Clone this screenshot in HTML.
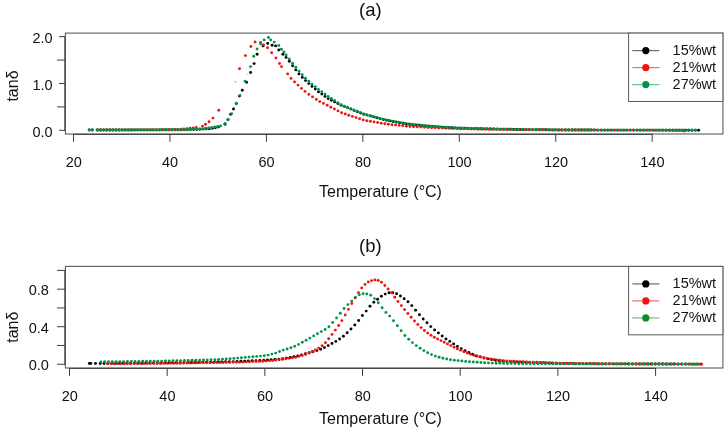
<!DOCTYPE html>
<html><head><meta charset="utf-8"><title>tan delta vs Temperature</title>
<style>html,body{margin:0;padding:0;background:#fff}svg{display:block}</style></head>
<body>
<svg width="728" height="433" viewBox="0 0 728 433" font-family="'Liberation Sans', sans-serif" fill="#111111">
<rect width="728" height="433" fill="#fff"/>
<rect x="65.4" y="33.1" width="657.5" height="100.9" fill="none" stroke="#5c5c5c" stroke-width="1.1"/>
<path d="M73.00 134.40H652.70 M64.85 36.15V130.79" fill="none" stroke="#3c3c3c" stroke-width="1"/>
<line x1="59.1" x2="65.1" y1="36.65" y2="36.65" stroke="#3c3c3c" stroke-width="1"/><text x="52.6" y="42.9" font-size="14.5" text-anchor="end">2.0</text>
<line x1="57.1" x2="65.1" y1="60.06" y2="60.06" stroke="#3c3c3c" stroke-width="1"/><line x1="59.1" x2="65.1" y1="83.47" y2="83.47" stroke="#3c3c3c" stroke-width="1"/><text x="52.6" y="89.8" font-size="14.5" text-anchor="end">1.0</text>
<line x1="57.1" x2="65.1" y1="106.88" y2="106.88" stroke="#3c3c3c" stroke-width="1"/><line x1="59.1" x2="65.1" y1="130.29" y2="130.29" stroke="#3c3c3c" stroke-width="1"/><text x="52.6" y="136.6" font-size="14.5" text-anchor="end">0.0</text>
<line x1="73.50" x2="73.50" y1="134.4" y2="141.9" stroke="#3c3c3c" stroke-width="1"/><text x="73.7" y="166.8" font-size="14.5" text-anchor="middle">20</text>
<line x1="169.95" x2="169.95" y1="134.4" y2="141.9" stroke="#3c3c3c" stroke-width="1"/><text x="170.1" y="166.8" font-size="14.5" text-anchor="middle">40</text>
<line x1="266.40" x2="266.40" y1="134.4" y2="141.9" stroke="#3c3c3c" stroke-width="1"/><text x="266.6" y="166.8" font-size="14.5" text-anchor="middle">60</text>
<line x1="362.85" x2="362.85" y1="134.4" y2="141.9" stroke="#3c3c3c" stroke-width="1"/><text x="363.0" y="166.8" font-size="14.5" text-anchor="middle">80</text>
<line x1="459.30" x2="459.30" y1="134.4" y2="141.9" stroke="#3c3c3c" stroke-width="1"/><text x="459.5" y="166.8" font-size="14.5" text-anchor="middle">100</text>
<line x1="555.75" x2="555.75" y1="134.4" y2="141.9" stroke="#3c3c3c" stroke-width="1"/><text x="556.0" y="166.8" font-size="14.5" text-anchor="middle">120</text>
<line x1="652.20" x2="652.20" y1="134.4" y2="141.9" stroke="#3c3c3c" stroke-width="1"/><text x="652.4" y="166.8" font-size="14.5" text-anchor="middle">140</text>
<text x="370.4" y="16.0" font-size="18.5" text-anchor="middle">(a)</text>
<text x="380.5" y="196.8" font-size="16" text-anchor="middle">Temperature (°C)</text>
<text transform="translate(18.2,86.0) rotate(-90)" font-size="16" text-anchor="middle">tanδ</text>
<g fill="#000000"><circle cx="89.2" cy="130.0" r="1.45"/><circle cx="92.3" cy="130.0" r="1.45"/><circle cx="97.6" cy="130.0" r="1.45"/><circle cx="100.7" cy="130.0" r="1.45"/><circle cx="103.8" cy="130.0" r="1.45"/><circle cx="106.9" cy="130.0" r="1.45"/><circle cx="110.0" cy="130.0" r="1.45"/><circle cx="113.1" cy="130.0" r="1.45"/><circle cx="116.2" cy="130.0" r="1.45"/><circle cx="119.3" cy="130.0" r="1.45"/><circle cx="122.4" cy="130.0" r="1.45"/><circle cx="125.5" cy="130.0" r="1.45"/><circle cx="128.6" cy="130.0" r="1.45"/><circle cx="131.7" cy="130.0" r="1.45"/><circle cx="134.8" cy="129.9" r="1.45"/><circle cx="137.9" cy="129.9" r="1.45"/><circle cx="141.0" cy="129.9" r="1.45"/><circle cx="144.1" cy="129.9" r="1.45"/><circle cx="147.2" cy="129.9" r="1.45"/><circle cx="150.3" cy="129.9" r="1.45"/><circle cx="153.4" cy="129.9" r="1.45"/><circle cx="156.5" cy="129.9" r="1.45"/><circle cx="159.6" cy="129.9" r="1.45"/><circle cx="162.7" cy="129.9" r="1.45"/><circle cx="165.8" cy="129.9" r="1.45"/><circle cx="168.9" cy="129.9" r="1.45"/><circle cx="172.0" cy="129.9" r="1.45"/><circle cx="175.1" cy="129.9" r="1.45"/><circle cx="178.2" cy="129.9" r="1.45"/><circle cx="181.3" cy="129.9" r="1.45"/><circle cx="184.4" cy="129.8" r="1.45"/><circle cx="187.5" cy="129.7" r="1.45"/><circle cx="190.6" cy="129.6" r="1.45"/><circle cx="193.7" cy="129.5" r="1.45"/><circle cx="196.8" cy="129.4" r="1.45"/><circle cx="199.9" cy="129.3" r="1.45"/><circle cx="203.0" cy="129.1" r="1.45"/><circle cx="206.1" cy="128.9" r="1.45"/><circle cx="209.2" cy="128.7" r="1.45"/><circle cx="212.3" cy="128.2" r="1.45"/><circle cx="215.4" cy="127.8" r="1.45"/><circle cx="218.5" cy="127.1" r="1.45"/><circle cx="225.0" cy="124.3" r="1.45"/><circle cx="228.0" cy="119.8" r="1.45"/><circle cx="230.7" cy="114.3" r="1.45"/><circle cx="233.5" cy="109.0" r="1.45"/><circle cx="236.2" cy="103.6" r="1.45"/><circle cx="239.4" cy="96.1" r="1.45"/><circle cx="242.3" cy="90.2" r="1.45"/><circle cx="246.5" cy="82.2" r="1.45"/><circle cx="250.6" cy="72.5" r="1.45"/><circle cx="254.1" cy="63.6" r="1.45"/><circle cx="257.1" cy="54.2" r="1.45"/><circle cx="263.1" cy="45.9" r="1.45"/><circle cx="267.7" cy="43.4" r="1.45"/><circle cx="272.1" cy="45.2" r="1.45"/><circle cx="275.6" cy="45.9" r="1.45"/><circle cx="278.8" cy="50.0" r="1.45"/><circle cx="282.9" cy="54.2" r="1.45"/><circle cx="286.1" cy="57.4" r="1.45"/><circle cx="289.3" cy="61.2" r="1.45"/><circle cx="292.6" cy="65.7" r="1.45"/><circle cx="295.8" cy="69.9" r="1.45"/><circle cx="299.0" cy="73.9" r="1.45"/><circle cx="302.3" cy="77.4" r="1.45"/><circle cx="305.5" cy="80.6" r="1.45"/><circle cx="308.8" cy="83.6" r="1.45"/><circle cx="312.0" cy="86.4" r="1.45"/><circle cx="315.3" cy="89.1" r="1.45"/><circle cx="318.5" cy="91.9" r="1.45"/><circle cx="321.8" cy="94.1" r="1.45"/><circle cx="325.0" cy="96.4" r="1.45"/><circle cx="328.2" cy="98.6" r="1.45"/><circle cx="331.4" cy="100.2" r="1.45"/><circle cx="334.6" cy="101.9" r="1.45"/><circle cx="337.9" cy="103.5" r="1.45"/><circle cx="341.1" cy="105.2" r="1.45"/><circle cx="344.4" cy="106.5" r="1.45"/><circle cx="347.6" cy="107.8" r="1.45"/><circle cx="350.9" cy="109.1" r="1.45"/><circle cx="354.1" cy="110.4" r="1.45"/><circle cx="357.4" cy="111.7" r="1.45"/><circle cx="360.6" cy="113.0" r="1.45"/><circle cx="363.9" cy="114.3" r="1.45"/><circle cx="367.1" cy="115.1" r="1.45"/><circle cx="370.4" cy="116.0" r="1.45"/><circle cx="373.6" cy="116.9" r="1.45"/><circle cx="376.9" cy="117.8" r="1.45"/><circle cx="380.1" cy="118.6" r="1.45"/><circle cx="383.4" cy="119.5" r="1.45"/><circle cx="386.6" cy="120.3" r="1.45"/><circle cx="389.9" cy="120.9" r="1.45"/><circle cx="393.1" cy="121.5" r="1.45"/><circle cx="396.4" cy="122.1" r="1.45"/><circle cx="399.6" cy="122.7" r="1.45"/><circle cx="402.9" cy="123.3" r="1.45"/><circle cx="406.1" cy="123.9" r="1.45"/><circle cx="409.4" cy="124.3" r="1.45"/><circle cx="412.6" cy="124.7" r="1.45"/><circle cx="415.9" cy="125.0" r="1.45"/><circle cx="419.1" cy="125.3" r="1.45"/><circle cx="422.4" cy="125.6" r="1.45"/><circle cx="425.6" cy="126.0" r="1.45"/><circle cx="428.9" cy="126.3" r="1.45"/><circle cx="432.1" cy="126.5" r="1.45"/><circle cx="435.4" cy="126.7" r="1.45"/><circle cx="438.6" cy="127.0" r="1.45"/><circle cx="441.9" cy="127.2" r="1.45"/><circle cx="445.1" cy="127.4" r="1.45"/><circle cx="448.4" cy="127.6" r="1.45"/><circle cx="451.6" cy="127.8" r="1.45"/><circle cx="454.9" cy="127.9" r="1.45"/><circle cx="458.1" cy="128.1" r="1.45"/><circle cx="461.4" cy="128.2" r="1.45"/><circle cx="464.6" cy="128.3" r="1.45"/><circle cx="467.9" cy="128.5" r="1.45"/><circle cx="471.1" cy="128.6" r="1.45"/><circle cx="474.4" cy="128.7" r="1.45"/><circle cx="477.6" cy="128.8" r="1.45"/><circle cx="480.9" cy="128.8" r="1.45"/><circle cx="484.1" cy="128.9" r="1.45"/><circle cx="487.4" cy="128.9" r="1.45"/><circle cx="490.6" cy="129.0" r="1.45"/><circle cx="493.9" cy="129.0" r="1.45"/><circle cx="497.1" cy="129.1" r="1.45"/><circle cx="500.4" cy="129.2" r="1.45"/><circle cx="503.6" cy="129.2" r="1.45"/><circle cx="506.9" cy="129.3" r="1.45"/><circle cx="510.1" cy="129.3" r="1.45"/><circle cx="513.4" cy="129.4" r="1.45"/><circle cx="516.6" cy="129.4" r="1.45"/><circle cx="519.9" cy="129.5" r="1.45"/><circle cx="523.1" cy="129.5" r="1.45"/><circle cx="526.4" cy="129.6" r="1.45"/><circle cx="529.6" cy="129.6" r="1.45"/><circle cx="532.9" cy="129.7" r="1.45"/><circle cx="536.1" cy="129.7" r="1.45"/><circle cx="539.4" cy="129.7" r="1.45"/><circle cx="542.6" cy="129.8" r="1.45"/><circle cx="545.9" cy="129.8" r="1.45"/><circle cx="549.1" cy="129.9" r="1.45"/><circle cx="552.4" cy="129.9" r="1.45"/><circle cx="555.6" cy="129.9" r="1.45"/><circle cx="558.9" cy="130.0" r="1.45"/><circle cx="562.1" cy="130.0" r="1.45"/><circle cx="565.4" cy="130.0" r="1.45"/><circle cx="568.6" cy="130.0" r="1.45"/><circle cx="571.9" cy="130.0" r="1.45"/><circle cx="575.1" cy="130.0" r="1.45"/><circle cx="578.4" cy="130.0" r="1.45"/><circle cx="581.6" cy="130.0" r="1.45"/><circle cx="584.9" cy="130.0" r="1.45"/><circle cx="588.1" cy="130.0" r="1.45"/><circle cx="591.4" cy="130.0" r="1.45"/><circle cx="594.6" cy="130.0" r="1.45"/><circle cx="597.9" cy="130.1" r="1.45"/><circle cx="601.1" cy="130.1" r="1.45"/><circle cx="604.4" cy="130.1" r="1.45"/><circle cx="607.6" cy="130.1" r="1.45"/><circle cx="610.9" cy="130.1" r="1.45"/><circle cx="614.1" cy="130.1" r="1.45"/><circle cx="617.4" cy="130.1" r="1.45"/><circle cx="620.6" cy="130.1" r="1.45"/><circle cx="623.9" cy="130.1" r="1.45"/><circle cx="627.1" cy="130.1" r="1.45"/><circle cx="630.4" cy="130.1" r="1.45"/><circle cx="633.6" cy="130.1" r="1.45"/><circle cx="636.9" cy="130.1" r="1.45"/><circle cx="640.1" cy="130.1" r="1.45"/><circle cx="643.4" cy="130.1" r="1.45"/><circle cx="646.6" cy="130.1" r="1.45"/><circle cx="649.9" cy="130.1" r="1.45"/><circle cx="653.1" cy="130.1" r="1.45"/><circle cx="656.4" cy="130.1" r="1.45"/><circle cx="659.6" cy="130.1" r="1.45"/><circle cx="662.9" cy="130.1" r="1.45"/><circle cx="666.1" cy="130.2" r="1.45"/><circle cx="669.4" cy="130.2" r="1.45"/><circle cx="672.6" cy="130.2" r="1.45"/><circle cx="675.9" cy="130.2" r="1.45"/><circle cx="679.1" cy="130.2" r="1.45"/><circle cx="682.4" cy="130.2" r="1.45"/><circle cx="685.6" cy="130.2" r="1.45"/><circle cx="688.9" cy="130.2" r="1.45"/><circle cx="692.1" cy="130.2" r="1.45"/><circle cx="695.4" cy="130.2" r="1.45"/><circle cx="698.6" cy="130.2" r="1.45"/></g>
<g fill="#f0140f"><circle cx="97.0" cy="130.0" r="1.45"/><circle cx="100.1" cy="130.0" r="1.45"/><circle cx="103.2" cy="130.0" r="1.45"/><circle cx="106.3" cy="130.0" r="1.45"/><circle cx="109.4" cy="130.0" r="1.45"/><circle cx="112.5" cy="130.0" r="1.45"/><circle cx="115.6" cy="130.0" r="1.45"/><circle cx="118.7" cy="130.0" r="1.45"/><circle cx="121.8" cy="130.0" r="1.45"/><circle cx="124.9" cy="130.0" r="1.45"/><circle cx="128.0" cy="130.0" r="1.45"/><circle cx="131.1" cy="129.9" r="1.45"/><circle cx="134.2" cy="129.9" r="1.45"/><circle cx="137.3" cy="129.9" r="1.45"/><circle cx="140.4" cy="129.9" r="1.45"/><circle cx="143.5" cy="129.9" r="1.45"/><circle cx="146.6" cy="129.9" r="1.45"/><circle cx="149.7" cy="129.9" r="1.45"/><circle cx="152.8" cy="129.9" r="1.45"/><circle cx="155.9" cy="129.9" r="1.45"/><circle cx="159.0" cy="129.9" r="1.45"/><circle cx="162.1" cy="129.8" r="1.45"/><circle cx="165.2" cy="129.8" r="1.45"/><circle cx="168.3" cy="129.7" r="1.45"/><circle cx="171.4" cy="129.6" r="1.45"/><circle cx="174.5" cy="129.5" r="1.45"/><circle cx="177.6" cy="129.5" r="1.45"/><circle cx="180.7" cy="129.3" r="1.45"/><circle cx="183.8" cy="129.0" r="1.45"/><circle cx="186.9" cy="128.6" r="1.45"/><circle cx="190.0" cy="128.3" r="1.45"/><circle cx="193.1" cy="127.9" r="1.45"/><circle cx="196.2" cy="127.4" r="1.45"/><circle cx="202.5" cy="126.1" r="1.45"/><circle cx="205.5" cy="124.3" r="1.45"/><circle cx="209.0" cy="121.8" r="1.45"/><circle cx="213.0" cy="118.1" r="1.45"/><circle cx="218.7" cy="110.3" r="1.45"/><circle cx="239.5" cy="68.7" r="1.45"/><circle cx="245.4" cy="55.6" r="1.45"/><circle cx="250.9" cy="46.5" r="1.45"/><circle cx="255.1" cy="42.0" r="1.45"/><circle cx="260.6" cy="42.4" r="1.45"/><circle cx="263.5" cy="44.9" r="1.45"/><circle cx="267.5" cy="47.7" r="1.45"/><circle cx="271.7" cy="52.8" r="1.45"/><circle cx="275.9" cy="57.9" r="1.45"/><circle cx="279.5" cy="63.5" r="1.45"/><circle cx="281.5" cy="66.6" r="1.45"/><circle cx="287.6" cy="73.9" r="1.45"/><circle cx="291.0" cy="78.4" r="1.45"/><circle cx="294.6" cy="81.9" r="1.45"/><circle cx="298.0" cy="85.1" r="1.45"/><circle cx="301.5" cy="88.4" r="1.45"/><circle cx="305.0" cy="91.4" r="1.45"/><circle cx="308.8" cy="94.4" r="1.45"/><circle cx="312.5" cy="96.9" r="1.45"/><circle cx="316.3" cy="99.4" r="1.45"/><circle cx="319.8" cy="101.6" r="1.45"/><circle cx="323.5" cy="103.4" r="1.45"/><circle cx="327.2" cy="105.3" r="1.45"/><circle cx="330.8" cy="107.2" r="1.45"/><circle cx="334.4" cy="109.0" r="1.45"/><circle cx="338.0" cy="110.9" r="1.45"/><circle cx="341.6" cy="112.8" r="1.45"/><circle cx="345.2" cy="114.0" r="1.45"/><circle cx="348.8" cy="115.2" r="1.45"/><circle cx="352.4" cy="116.4" r="1.45"/><circle cx="356.0" cy="117.6" r="1.45"/><circle cx="359.6" cy="118.8" r="1.45"/><circle cx="363.2" cy="119.9" r="1.45"/><circle cx="366.8" cy="120.7" r="1.45"/><circle cx="370.4" cy="121.3" r="1.45"/><circle cx="374.0" cy="121.9" r="1.45"/><circle cx="377.6" cy="122.5" r="1.45"/><circle cx="381.2" cy="123.2" r="1.45"/><circle cx="384.8" cy="123.8" r="1.45"/><circle cx="388.4" cy="124.3" r="1.45"/><circle cx="392.0" cy="124.7" r="1.45"/><circle cx="395.6" cy="125.0" r="1.45"/><circle cx="399.2" cy="125.4" r="1.45"/><circle cx="402.8" cy="125.8" r="1.45"/><circle cx="406.4" cy="126.2" r="1.45"/><circle cx="410.0" cy="126.5" r="1.45"/><circle cx="413.6" cy="126.7" r="1.45"/><circle cx="417.2" cy="126.9" r="1.45"/><circle cx="420.8" cy="127.1" r="1.45"/><circle cx="424.4" cy="127.3" r="1.45"/><circle cx="428.0" cy="127.5" r="1.45"/><circle cx="431.6" cy="127.7" r="1.45"/><circle cx="435.2" cy="127.8" r="1.45"/><circle cx="438.8" cy="128.0" r="1.45"/><circle cx="442.4" cy="128.1" r="1.45"/><circle cx="446.0" cy="128.3" r="1.45"/><circle cx="449.6" cy="128.4" r="1.45"/><circle cx="453.2" cy="128.5" r="1.45"/><circle cx="456.8" cy="128.6" r="1.45"/><circle cx="460.4" cy="128.7" r="1.45"/><circle cx="464.0" cy="128.8" r="1.45"/><circle cx="467.6" cy="128.9" r="1.45"/><circle cx="471.2" cy="129.0" r="1.45"/><circle cx="474.8" cy="129.1" r="1.45"/><circle cx="478.4" cy="129.2" r="1.45"/><circle cx="482.0" cy="129.2" r="1.45"/><circle cx="485.6" cy="129.3" r="1.45"/><circle cx="489.2" cy="129.3" r="1.45"/><circle cx="492.8" cy="129.3" r="1.45"/><circle cx="496.4" cy="129.4" r="1.45"/><circle cx="500.0" cy="129.4" r="1.45"/><circle cx="503.6" cy="129.5" r="1.45"/><circle cx="507.2" cy="129.5" r="1.45"/><circle cx="510.8" cy="129.6" r="1.45"/><circle cx="514.4" cy="129.6" r="1.45"/><circle cx="518.0" cy="129.7" r="1.45"/><circle cx="521.6" cy="129.7" r="1.45"/><circle cx="525.2" cy="129.7" r="1.45"/><circle cx="528.8" cy="129.8" r="1.45"/><circle cx="532.4" cy="129.8" r="1.45"/><circle cx="536.0" cy="129.8" r="1.45"/><circle cx="539.6" cy="129.8" r="1.45"/><circle cx="543.2" cy="129.9" r="1.45"/><circle cx="546.8" cy="129.9" r="1.45"/><circle cx="550.4" cy="129.9" r="1.45"/><circle cx="554.0" cy="130.0" r="1.45"/><circle cx="557.6" cy="130.0" r="1.45"/><circle cx="561.2" cy="130.0" r="1.45"/><circle cx="564.8" cy="130.0" r="1.45"/><circle cx="568.4" cy="130.0" r="1.45"/><circle cx="572.0" cy="130.0" r="1.45"/><circle cx="575.6" cy="130.0" r="1.45"/><circle cx="579.2" cy="130.0" r="1.45"/><circle cx="582.8" cy="130.0" r="1.45"/><circle cx="586.4" cy="130.0" r="1.45"/><circle cx="590.0" cy="130.0" r="1.45"/><circle cx="593.6" cy="130.1" r="1.45"/><circle cx="597.2" cy="130.1" r="1.45"/><circle cx="600.8" cy="130.1" r="1.45"/><circle cx="604.4" cy="130.1" r="1.45"/><circle cx="608.0" cy="130.1" r="1.45"/><circle cx="611.6" cy="130.1" r="1.45"/><circle cx="615.2" cy="130.1" r="1.45"/><circle cx="618.8" cy="130.1" r="1.45"/><circle cx="622.4" cy="130.1" r="1.45"/><circle cx="626.0" cy="130.1" r="1.45"/><circle cx="629.6" cy="130.1" r="1.45"/><circle cx="633.2" cy="130.1" r="1.45"/><circle cx="636.8" cy="130.1" r="1.45"/><circle cx="640.4" cy="130.1" r="1.45"/><circle cx="644.0" cy="130.1" r="1.45"/><circle cx="647.6" cy="130.1" r="1.45"/><circle cx="651.2" cy="130.1" r="1.45"/><circle cx="654.8" cy="130.2" r="1.45"/><circle cx="658.4" cy="130.2" r="1.45"/><circle cx="662.0" cy="130.2" r="1.45"/><circle cx="665.6" cy="130.2" r="1.45"/><circle cx="669.2" cy="130.2" r="1.45"/><circle cx="672.8" cy="130.2" r="1.45"/><circle cx="676.4" cy="130.2" r="1.45"/><circle cx="680.0" cy="130.2" r="1.45"/><circle cx="683.6" cy="130.2" r="1.45"/><circle cx="684.2" cy="131.0" r="1.45"/></g>
<g fill="#00964a"><circle cx="89.2" cy="130.0" r="1.45"/><circle cx="92.3" cy="130.0" r="1.45"/><circle cx="97.6" cy="130.0" r="1.45"/><circle cx="100.6" cy="130.0" r="1.45"/><circle cx="103.6" cy="130.0" r="1.45"/><circle cx="106.6" cy="130.0" r="1.45"/><circle cx="109.6" cy="130.0" r="1.45"/><circle cx="112.6" cy="130.0" r="1.45"/><circle cx="115.6" cy="130.0" r="1.45"/><circle cx="118.6" cy="129.9" r="1.45"/><circle cx="121.6" cy="129.9" r="1.45"/><circle cx="124.6" cy="129.9" r="1.45"/><circle cx="127.6" cy="129.9" r="1.45"/><circle cx="130.6" cy="129.9" r="1.45"/><circle cx="133.6" cy="129.9" r="1.45"/><circle cx="136.6" cy="129.9" r="1.45"/><circle cx="139.6" cy="129.9" r="1.45"/><circle cx="142.6" cy="129.9" r="1.45"/><circle cx="145.6" cy="129.9" r="1.45"/><circle cx="148.6" cy="129.9" r="1.45"/><circle cx="151.6" cy="129.9" r="1.45"/><circle cx="154.6" cy="129.9" r="1.45"/><circle cx="157.6" cy="129.9" r="1.45"/><circle cx="160.6" cy="129.8" r="1.45"/><circle cx="163.6" cy="129.8" r="1.45"/><circle cx="166.6" cy="129.8" r="1.45"/><circle cx="169.6" cy="129.8" r="1.45"/><circle cx="172.6" cy="129.8" r="1.45"/><circle cx="175.6" cy="129.8" r="1.45"/><circle cx="178.6" cy="129.8" r="1.45"/><circle cx="181.6" cy="129.7" r="1.45"/><circle cx="184.6" cy="129.6" r="1.45"/><circle cx="187.6" cy="129.5" r="1.45"/><circle cx="190.6" cy="129.4" r="1.45"/><circle cx="193.6" cy="129.3" r="1.45"/><circle cx="196.6" cy="129.1" r="1.45"/><circle cx="199.6" cy="129.0" r="1.45"/><circle cx="202.6" cy="128.7" r="1.45"/><circle cx="205.6" cy="128.3" r="1.45"/><circle cx="208.6" cy="127.9" r="1.45"/><circle cx="211.6" cy="127.5" r="1.45"/><circle cx="214.6" cy="127.0" r="1.45"/><circle cx="217.6" cy="126.5" r="1.45"/><circle cx="220.6" cy="125.9" r="1.45"/><circle cx="225.0" cy="123.5" r="1.45"/><circle cx="228.0" cy="119.8" r="1.45"/><circle cx="231.6" cy="113.6" r="1.45"/><circle cx="236.5" cy="103.3" r="1.45"/><circle cx="239.9" cy="95.4" r="1.45"/><circle cx="245.1" cy="81.2" r="1.45"/><circle cx="250.6" cy="66.6" r="1.45"/><circle cx="253.7" cy="56.2" r="1.45"/><circle cx="257.1" cy="48.9" r="1.45"/><circle cx="260.7" cy="43.8" r="1.45"/><circle cx="264.1" cy="39.9" r="1.45"/><circle cx="268.4" cy="37.5" r="1.45"/><circle cx="270.7" cy="39.9" r="1.45"/><circle cx="274.2" cy="42.1" r="1.45"/><circle cx="278.8" cy="45.4" r="1.45"/><circle cx="281.4" cy="49.3" r="1.45"/><circle cx="284.0" cy="52.0" r="1.45"/><circle cx="286.1" cy="55.0" r="1.45"/><circle cx="289.3" cy="59.0" r="1.45"/><circle cx="292.6" cy="63.2" r="1.45"/><circle cx="295.8" cy="67.3" r="1.45"/><circle cx="299.0" cy="71.2" r="1.45"/><circle cx="302.3" cy="74.8" r="1.45"/><circle cx="305.5" cy="78.2" r="1.45"/><circle cx="308.8" cy="81.2" r="1.45"/><circle cx="312.0" cy="84.1" r="1.45"/><circle cx="315.3" cy="86.8" r="1.45"/><circle cx="318.5" cy="89.4" r="1.45"/><circle cx="321.8" cy="91.8" r="1.45"/><circle cx="325.0" cy="94.1" r="1.45"/><circle cx="328.2" cy="96.4" r="1.45"/><circle cx="331.4" cy="98.5" r="1.45"/><circle cx="334.6" cy="100.5" r="1.45"/><circle cx="337.8" cy="102.6" r="1.45"/><circle cx="341.0" cy="104.7" r="1.45"/><circle cx="344.2" cy="106.2" r="1.45"/><circle cx="347.4" cy="107.5" r="1.45"/><circle cx="350.6" cy="108.7" r="1.45"/><circle cx="353.8" cy="110.0" r="1.45"/><circle cx="357.0" cy="111.3" r="1.45"/><circle cx="360.2" cy="112.6" r="1.45"/><circle cx="363.4" cy="113.9" r="1.45"/><circle cx="366.6" cy="114.8" r="1.45"/><circle cx="369.8" cy="115.7" r="1.45"/><circle cx="373.0" cy="116.5" r="1.45"/><circle cx="376.2" cy="117.4" r="1.45"/><circle cx="379.4" cy="118.2" r="1.45"/><circle cx="382.6" cy="119.1" r="1.45"/><circle cx="385.8" cy="119.9" r="1.45"/><circle cx="389.0" cy="120.5" r="1.45"/><circle cx="392.2" cy="121.1" r="1.45"/><circle cx="395.4" cy="121.7" r="1.45"/><circle cx="398.6" cy="122.3" r="1.45"/><circle cx="401.8" cy="122.9" r="1.45"/><circle cx="405.0" cy="123.5" r="1.45"/><circle cx="408.2" cy="124.0" r="1.45"/><circle cx="411.4" cy="124.3" r="1.45"/><circle cx="414.6" cy="124.7" r="1.45"/><circle cx="417.8" cy="125.0" r="1.45"/><circle cx="421.0" cy="125.3" r="1.45"/><circle cx="424.2" cy="125.6" r="1.45"/><circle cx="427.4" cy="125.9" r="1.45"/><circle cx="430.6" cy="126.2" r="1.45"/><circle cx="433.8" cy="126.5" r="1.45"/><circle cx="437.0" cy="126.7" r="1.45"/><circle cx="440.2" cy="126.9" r="1.45"/><circle cx="443.4" cy="127.1" r="1.45"/><circle cx="446.6" cy="127.3" r="1.45"/><circle cx="449.8" cy="127.5" r="1.45"/><circle cx="453.0" cy="127.7" r="1.45"/><circle cx="456.2" cy="127.9" r="1.45"/><circle cx="459.4" cy="128.0" r="1.45"/><circle cx="462.6" cy="128.1" r="1.45"/><circle cx="465.8" cy="128.3" r="1.45"/><circle cx="469.0" cy="128.4" r="1.45"/><circle cx="472.2" cy="128.4" r="1.45"/><circle cx="475.8" cy="128.5" r="1.45"/><circle cx="479.4" cy="128.6" r="1.45"/><circle cx="483.0" cy="128.7" r="1.45"/><circle cx="486.6" cy="128.8" r="1.45"/><circle cx="490.2" cy="128.8" r="1.45"/><circle cx="493.8" cy="128.9" r="1.45"/><circle cx="497.4" cy="129.0" r="1.45"/><circle cx="501.0" cy="129.1" r="1.45"/><circle cx="504.6" cy="129.2" r="1.45"/><circle cx="508.2" cy="129.2" r="1.45"/><circle cx="511.8" cy="129.3" r="1.45"/><circle cx="515.4" cy="129.4" r="1.45"/><circle cx="519.0" cy="129.5" r="1.45"/><circle cx="522.6" cy="129.5" r="1.45"/><circle cx="526.2" cy="129.6" r="1.45"/><circle cx="529.8" cy="129.6" r="1.45"/><circle cx="533.4" cy="129.7" r="1.45"/><circle cx="537.0" cy="129.7" r="1.45"/><circle cx="540.6" cy="129.8" r="1.45"/><circle cx="544.2" cy="129.8" r="1.45"/><circle cx="547.8" cy="129.8" r="1.45"/><circle cx="551.4" cy="129.9" r="1.45"/><circle cx="555.0" cy="129.9" r="1.45"/><circle cx="558.6" cy="130.0" r="1.45"/><circle cx="562.2" cy="130.0" r="1.45"/><circle cx="565.8" cy="130.0" r="1.45"/><circle cx="569.4" cy="130.0" r="1.45"/><circle cx="573.0" cy="130.0" r="1.45"/><circle cx="576.6" cy="130.0" r="1.45"/><circle cx="580.2" cy="130.0" r="1.45"/><circle cx="583.8" cy="130.0" r="1.45"/><circle cx="587.4" cy="130.0" r="1.45"/><circle cx="591.0" cy="130.0" r="1.45"/><circle cx="594.6" cy="130.1" r="1.45"/><circle cx="598.2" cy="130.1" r="1.45"/><circle cx="601.8" cy="130.1" r="1.45"/><circle cx="605.4" cy="130.1" r="1.45"/><circle cx="609.0" cy="130.1" r="1.45"/><circle cx="612.6" cy="130.1" r="1.45"/><circle cx="616.2" cy="130.1" r="1.45"/><circle cx="619.8" cy="130.1" r="1.45"/><circle cx="623.4" cy="130.1" r="1.45"/><circle cx="627.0" cy="130.1" r="1.45"/><circle cx="630.6" cy="130.1" r="1.45"/><circle cx="634.2" cy="130.1" r="1.45"/><circle cx="637.8" cy="130.1" r="1.45"/><circle cx="641.4" cy="130.1" r="1.45"/><circle cx="645.0" cy="130.1" r="1.45"/><circle cx="648.6" cy="130.1" r="1.45"/><circle cx="652.2" cy="130.1" r="1.45"/><circle cx="655.8" cy="130.1" r="1.45"/><circle cx="659.4" cy="130.1" r="1.45"/><circle cx="663.0" cy="130.2" r="1.45"/><circle cx="666.6" cy="130.2" r="1.45"/><circle cx="670.2" cy="130.2" r="1.45"/><circle cx="673.8" cy="130.2" r="1.45"/><circle cx="677.4" cy="130.2" r="1.45"/><circle cx="681.0" cy="130.2" r="1.45"/><circle cx="684.6" cy="130.2" r="1.45"/><circle cx="688.2" cy="130.2" r="1.45"/><circle cx="691.8" cy="130.2" r="1.45"/><circle cx="695.4" cy="130.2" r="1.45"/></g>
<circle cx="235.4" cy="81.9" r="0.8" fill="#f98a7a"/><circle cx="247.6" cy="74" r="0.7" fill="#8fd0b0"/><rect x="628.6" y="33.1" width="94.3" height="68.4" fill="#fff" stroke="#5c5c5c" stroke-width="1"/>
<line x1="632.3" x2="659.3" y1="50.6" y2="50.6" stroke="#6e6e6e" stroke-width="1.2"/><circle cx="645.8" cy="50.6" r="3.6" fill="#000000"/><text x="672.6" y="54.9" font-size="14.5">15%wt</text>
<line x1="632.3" x2="659.3" y1="67.6" y2="67.6" stroke="#f66c64" stroke-width="1.2"/><circle cx="645.8" cy="67.6" r="3.6" fill="#f0140f"/><text x="672.6" y="71.8" font-size="14.5">21%wt</text>
<line x1="632.3" x2="659.3" y1="84.6" y2="84.6" stroke="#68bf94" stroke-width="1.2"/><circle cx="645.8" cy="84.6" r="3.6" fill="#00934d"/><text x="672.6" y="88.8" font-size="14.5">27%wt</text>
<rect x="65.4" y="266.4" width="657.5" height="101.6" fill="none" stroke="#5c5c5c" stroke-width="1.1"/>
<path d="M69.00 368.40H656.08 M64.85 269.90V364.75" fill="none" stroke="#3c3c3c" stroke-width="1"/>
<line x1="57.1" x2="65.1" y1="270.40" y2="270.40" stroke="#3c3c3c" stroke-width="1"/><line x1="57.1" x2="65.1" y1="289.17" y2="289.17" stroke="#3c3c3c" stroke-width="1"/><text x="48.9" y="295.0" font-size="14.5" text-anchor="end">0.8</text>
<line x1="57.1" x2="65.1" y1="307.94" y2="307.94" stroke="#3c3c3c" stroke-width="1"/><line x1="57.1" x2="65.1" y1="326.71" y2="326.71" stroke="#3c3c3c" stroke-width="1"/><text x="48.9" y="332.5" font-size="14.5" text-anchor="end">0.4</text>
<line x1="57.1" x2="65.1" y1="345.48" y2="345.48" stroke="#3c3c3c" stroke-width="1"/><line x1="57.1" x2="65.1" y1="364.25" y2="364.25" stroke="#3c3c3c" stroke-width="1"/><text x="48.9" y="370.1" font-size="14.5" text-anchor="end">0.0</text>
<line x1="69.50" x2="69.50" y1="368.4" y2="375.9" stroke="#3c3c3c" stroke-width="1"/><text x="69.7" y="400.5" font-size="14.5" text-anchor="middle">20</text>
<line x1="167.18" x2="167.18" y1="368.4" y2="375.9" stroke="#3c3c3c" stroke-width="1"/><text x="167.4" y="400.5" font-size="14.5" text-anchor="middle">40</text>
<line x1="264.86" x2="264.86" y1="368.4" y2="375.9" stroke="#3c3c3c" stroke-width="1"/><text x="265.1" y="400.5" font-size="14.5" text-anchor="middle">60</text>
<line x1="362.54" x2="362.54" y1="368.4" y2="375.9" stroke="#3c3c3c" stroke-width="1"/><text x="362.7" y="400.5" font-size="14.5" text-anchor="middle">80</text>
<line x1="460.22" x2="460.22" y1="368.4" y2="375.9" stroke="#3c3c3c" stroke-width="1"/><text x="460.4" y="400.5" font-size="14.5" text-anchor="middle">100</text>
<line x1="557.90" x2="557.90" y1="368.4" y2="375.9" stroke="#3c3c3c" stroke-width="1"/><text x="558.1" y="400.5" font-size="14.5" text-anchor="middle">120</text>
<line x1="655.58" x2="655.58" y1="368.4" y2="375.9" stroke="#3c3c3c" stroke-width="1"/><text x="655.8" y="400.5" font-size="14.5" text-anchor="middle">140</text>
<text x="370.4" y="251.5" font-size="18.5" text-anchor="middle">(b)</text>
<text x="380.5" y="423.6" font-size="16" text-anchor="middle">Temperature (°C)</text>
<text transform="translate(18.2,327.2) rotate(-90)" font-size="16" text-anchor="middle">tanδ</text>
<g fill="#000000"><circle cx="89.3" cy="363.4" r="1.45"/><circle cx="90.8" cy="363.4" r="1.45"/><circle cx="95.5" cy="363.4" r="1.45"/><circle cx="100.2" cy="363.5" r="1.45"/><circle cx="104.0" cy="363.5" r="1.45"/><circle cx="107.8" cy="363.4" r="1.45"/><circle cx="111.6" cy="363.4" r="1.45"/><circle cx="115.4" cy="363.4" r="1.45"/><circle cx="119.2" cy="363.3" r="1.45"/><circle cx="123.0" cy="363.3" r="1.45"/><circle cx="126.8" cy="363.3" r="1.45"/><circle cx="130.6" cy="363.2" r="1.45"/><circle cx="134.4" cy="363.2" r="1.45"/><circle cx="138.2" cy="363.2" r="1.45"/><circle cx="142.0" cy="363.2" r="1.45"/><circle cx="145.8" cy="363.1" r="1.45"/><circle cx="149.6" cy="363.1" r="1.45"/><circle cx="153.4" cy="363.1" r="1.45"/><circle cx="157.2" cy="363.0" r="1.45"/><circle cx="161.0" cy="363.0" r="1.45"/><circle cx="164.8" cy="362.9" r="1.45"/><circle cx="168.6" cy="362.9" r="1.45"/><circle cx="172.4" cy="362.8" r="1.45"/><circle cx="176.2" cy="362.8" r="1.45"/><circle cx="180.0" cy="362.7" r="1.45"/><circle cx="183.8" cy="362.6" r="1.45"/><circle cx="187.6" cy="362.6" r="1.45"/><circle cx="191.4" cy="362.5" r="1.45"/><circle cx="195.2" cy="362.5" r="1.45"/><circle cx="199.0" cy="362.4" r="1.45"/><circle cx="202.8" cy="362.3" r="1.45"/><circle cx="206.6" cy="362.2" r="1.45"/><circle cx="210.4" cy="362.2" r="1.45"/><circle cx="214.2" cy="362.1" r="1.45"/><circle cx="218.0" cy="362.0" r="1.45"/><circle cx="221.8" cy="361.9" r="1.45"/><circle cx="225.6" cy="361.8" r="1.45"/><circle cx="229.4" cy="361.7" r="1.45"/><circle cx="233.2" cy="361.6" r="1.45"/><circle cx="237.0" cy="361.4" r="1.45"/><circle cx="240.8" cy="361.3" r="1.45"/><circle cx="244.6" cy="361.1" r="1.45"/><circle cx="248.4" cy="361.0" r="1.45"/><circle cx="252.2" cy="360.8" r="1.45"/><circle cx="256.0" cy="360.7" r="1.45"/><circle cx="259.8" cy="360.4" r="1.45"/><circle cx="263.6" cy="360.2" r="1.45"/><circle cx="267.4" cy="359.9" r="1.45"/><circle cx="271.2" cy="359.6" r="1.45"/><circle cx="275.0" cy="359.4" r="1.45"/><circle cx="278.8" cy="359.1" r="1.45"/><circle cx="282.6" cy="358.7" r="1.45"/><circle cx="286.4" cy="358.1" r="1.45"/><circle cx="290.2" cy="357.5" r="1.45"/><circle cx="294.0" cy="356.8" r="1.45"/><circle cx="297.8" cy="356.0" r="1.45"/><circle cx="301.6" cy="354.9" r="1.45"/><circle cx="305.4" cy="353.8" r="1.45"/><circle cx="309.2" cy="352.8" r="1.45"/><circle cx="313.0" cy="351.7" r="1.45"/><circle cx="316.8" cy="350.6" r="1.45"/><circle cx="320.6" cy="349.2" r="1.45"/><circle cx="324.4" cy="347.6" r="1.45"/><circle cx="328.2" cy="345.6" r="1.45"/><circle cx="332.0" cy="343.5" r="1.45"/><circle cx="335.8" cy="341.4" r="1.45"/><circle cx="339.6" cy="339.0" r="1.45"/><circle cx="343.4" cy="336.3" r="1.45"/><circle cx="347.2" cy="332.8" r="1.45"/><circle cx="351.0" cy="329.0" r="1.45"/><circle cx="354.8" cy="325.0" r="1.45"/><circle cx="358.6" cy="320.5" r="1.45"/><circle cx="362.4" cy="315.5" r="1.45"/><circle cx="366.2" cy="311.1" r="1.45"/><circle cx="370.0" cy="306.3" r="1.45"/><circle cx="373.8" cy="302.2" r="1.45"/><circle cx="377.6" cy="299.2" r="1.45"/><circle cx="381.4" cy="296.3" r="1.45"/><circle cx="385.2" cy="294.1" r="1.45"/><circle cx="389.0" cy="292.8" r="1.45"/><circle cx="392.8" cy="292.8" r="1.45"/><circle cx="396.6" cy="293.8" r="1.45"/><circle cx="400.4" cy="296.0" r="1.45"/><circle cx="404.2" cy="298.8" r="1.45"/><circle cx="408.0" cy="301.7" r="1.45"/><circle cx="411.8" cy="305.6" r="1.45"/><circle cx="415.6" cy="310.2" r="1.45"/><circle cx="419.4" cy="314.7" r="1.45"/><circle cx="423.2" cy="319.0" r="1.45"/><circle cx="427.0" cy="322.8" r="1.45"/><circle cx="430.8" cy="326.6" r="1.45"/><circle cx="434.6" cy="329.9" r="1.45"/><circle cx="438.4" cy="332.9" r="1.45"/><circle cx="442.2" cy="336.0" r="1.45"/><circle cx="446.0" cy="338.9" r="1.45"/><circle cx="449.8" cy="341.4" r="1.45"/><circle cx="453.6" cy="343.9" r="1.45"/><circle cx="457.4" cy="346.5" r="1.45"/><circle cx="461.2" cy="348.8" r="1.45"/><circle cx="465.0" cy="350.7" r="1.45"/><circle cx="468.8" cy="352.5" r="1.45"/><circle cx="472.6" cy="354.3" r="1.45"/><circle cx="476.4" cy="355.9" r="1.45"/><circle cx="480.2" cy="356.9" r="1.45"/><circle cx="484.0" cy="358.0" r="1.45"/><circle cx="487.8" cy="358.9" r="1.45"/><circle cx="491.6" cy="359.6" r="1.45"/><circle cx="495.4" cy="360.2" r="1.45"/><circle cx="499.2" cy="360.7" r="1.45"/><circle cx="503.0" cy="361.2" r="1.45"/><circle cx="506.8" cy="361.6" r="1.45"/><circle cx="510.6" cy="361.8" r="1.45"/><circle cx="514.4" cy="361.9" r="1.45"/><circle cx="518.2" cy="362.1" r="1.45"/><circle cx="522.0" cy="362.3" r="1.45"/><circle cx="525.8" cy="362.4" r="1.45"/><circle cx="529.6" cy="362.5" r="1.45"/><circle cx="533.4" cy="362.7" r="1.45"/><circle cx="537.2" cy="362.8" r="1.45"/><circle cx="541.0" cy="362.9" r="1.45"/><circle cx="544.8" cy="363.0" r="1.45"/><circle cx="548.6" cy="363.1" r="1.45"/><circle cx="552.4" cy="363.3" r="1.45"/><circle cx="556.2" cy="363.4" r="1.45"/><circle cx="560.0" cy="363.5" r="1.45"/><circle cx="563.8" cy="363.5" r="1.45"/><circle cx="567.6" cy="363.6" r="1.45"/><circle cx="571.4" cy="363.6" r="1.45"/><circle cx="575.2" cy="363.7" r="1.45"/><circle cx="579.0" cy="363.7" r="1.45"/><circle cx="582.8" cy="363.7" r="1.45"/><circle cx="586.6" cy="363.8" r="1.45"/><circle cx="590.4" cy="363.8" r="1.45"/><circle cx="594.2" cy="363.8" r="1.45"/><circle cx="598.0" cy="363.9" r="1.45"/><circle cx="601.8" cy="363.9" r="1.45"/><circle cx="605.6" cy="363.9" r="1.45"/><circle cx="609.4" cy="363.9" r="1.45"/><circle cx="613.2" cy="363.9" r="1.45"/><circle cx="617.0" cy="363.9" r="1.45"/><circle cx="620.8" cy="363.9" r="1.45"/><circle cx="624.6" cy="363.9" r="1.45"/><circle cx="628.4" cy="364.0" r="1.45"/><circle cx="632.2" cy="364.0" r="1.45"/><circle cx="636.0" cy="364.0" r="1.45"/><circle cx="639.8" cy="364.0" r="1.45"/><circle cx="643.6" cy="364.0" r="1.45"/><circle cx="647.4" cy="364.0" r="1.45"/><circle cx="651.2" cy="364.0" r="1.45"/><circle cx="655.0" cy="364.0" r="1.45"/><circle cx="658.8" cy="364.0" r="1.45"/><circle cx="662.6" cy="364.0" r="1.45"/><circle cx="666.4" cy="364.0" r="1.45"/><circle cx="670.2" cy="364.0" r="1.45"/><circle cx="674.0" cy="364.0" r="1.45"/><circle cx="677.8" cy="364.1" r="1.45"/><circle cx="681.6" cy="364.1" r="1.45"/><circle cx="685.4" cy="364.1" r="1.45"/><circle cx="689.2" cy="364.1" r="1.45"/><circle cx="693.0" cy="364.1" r="1.45"/><circle cx="696.8" cy="364.1" r="1.45"/><circle cx="700.6" cy="364.1" r="1.45"/></g>
<g fill="#f0140f"><circle cx="107.6" cy="363.8" r="1.45"/><circle cx="110.9" cy="363.8" r="1.45"/><circle cx="114.2" cy="363.8" r="1.45"/><circle cx="117.5" cy="363.7" r="1.45"/><circle cx="120.8" cy="363.7" r="1.45"/><circle cx="124.1" cy="363.7" r="1.45"/><circle cx="127.4" cy="363.7" r="1.45"/><circle cx="130.7" cy="363.7" r="1.45"/><circle cx="134.0" cy="363.6" r="1.45"/><circle cx="137.3" cy="363.6" r="1.45"/><circle cx="140.6" cy="363.6" r="1.45"/><circle cx="143.9" cy="363.6" r="1.45"/><circle cx="147.2" cy="363.6" r="1.45"/><circle cx="150.5" cy="363.6" r="1.45"/><circle cx="153.8" cy="363.5" r="1.45"/><circle cx="157.1" cy="363.5" r="1.45"/><circle cx="160.4" cy="363.5" r="1.45"/><circle cx="163.7" cy="363.4" r="1.45"/><circle cx="167.0" cy="363.4" r="1.45"/><circle cx="170.3" cy="363.3" r="1.45"/><circle cx="173.6" cy="363.3" r="1.45"/><circle cx="176.9" cy="363.2" r="1.45"/><circle cx="180.2" cy="363.2" r="1.45"/><circle cx="183.5" cy="363.1" r="1.45"/><circle cx="186.8" cy="363.1" r="1.45"/><circle cx="190.1" cy="363.0" r="1.45"/><circle cx="193.4" cy="362.9" r="1.45"/><circle cx="196.7" cy="362.9" r="1.45"/><circle cx="200.0" cy="362.8" r="1.45"/><circle cx="203.3" cy="362.8" r="1.45"/><circle cx="206.6" cy="362.7" r="1.45"/><circle cx="209.9" cy="362.7" r="1.45"/><circle cx="213.2" cy="362.6" r="1.45"/><circle cx="216.5" cy="362.6" r="1.45"/><circle cx="219.8" cy="362.5" r="1.45"/><circle cx="223.1" cy="362.5" r="1.45"/><circle cx="226.4" cy="362.4" r="1.45"/><circle cx="229.7" cy="362.4" r="1.45"/><circle cx="233.0" cy="362.3" r="1.45"/><circle cx="236.3" cy="362.3" r="1.45"/><circle cx="239.6" cy="362.2" r="1.45"/><circle cx="242.9" cy="362.1" r="1.45"/><circle cx="246.2" cy="361.9" r="1.45"/><circle cx="249.5" cy="361.8" r="1.45"/><circle cx="252.8" cy="361.6" r="1.45"/><circle cx="256.1" cy="361.5" r="1.45"/><circle cx="259.4" cy="361.4" r="1.45"/><circle cx="262.7" cy="361.2" r="1.45"/><circle cx="266.0" cy="361.1" r="1.45"/><circle cx="269.3" cy="360.8" r="1.45"/><circle cx="272.6" cy="360.5" r="1.45"/><circle cx="275.9" cy="360.1" r="1.45"/><circle cx="279.2" cy="359.8" r="1.45"/><circle cx="282.5" cy="359.4" r="1.45"/><circle cx="285.8" cy="358.9" r="1.45"/><circle cx="289.1" cy="358.3" r="1.45"/><circle cx="292.4" cy="357.8" r="1.45"/><circle cx="295.7" cy="357.2" r="1.45"/><circle cx="299.0" cy="356.3" r="1.45"/><circle cx="302.3" cy="355.4" r="1.45"/><circle cx="305.6" cy="354.5" r="1.45"/><circle cx="308.9" cy="353.1" r="1.45"/><circle cx="312.2" cy="351.5" r="1.45"/><circle cx="315.5" cy="349.9" r="1.45"/><circle cx="318.8" cy="348.1" r="1.45"/><circle cx="322.1" cy="345.8" r="1.45"/><circle cx="325.4" cy="342.7" r="1.45"/><circle cx="328.7" cy="338.7" r="1.45"/><circle cx="332.0" cy="334.4" r="1.45"/><circle cx="335.3" cy="330.1" r="1.45"/><circle cx="338.6" cy="325.5" r="1.45"/><circle cx="341.9" cy="320.6" r="1.45"/><circle cx="345.2" cy="315.0" r="1.45"/><circle cx="348.5" cy="309.4" r="1.45"/><circle cx="351.8" cy="303.5" r="1.45"/><circle cx="355.1" cy="297.9" r="1.45"/><circle cx="358.4" cy="292.6" r="1.45"/><circle cx="361.7" cy="287.9" r="1.45"/><circle cx="365.0" cy="284.4" r="1.45"/><circle cx="368.3" cy="281.9" r="1.45"/><circle cx="371.6" cy="280.6" r="1.45"/><circle cx="374.9" cy="279.9" r="1.45"/><circle cx="378.2" cy="280.5" r="1.45"/><circle cx="381.5" cy="282.2" r="1.45"/><circle cx="384.8" cy="285.5" r="1.45"/><circle cx="388.1" cy="289.0" r="1.45"/><circle cx="391.4" cy="292.8" r="1.45"/><circle cx="394.7" cy="297.2" r="1.45"/><circle cx="398.0" cy="301.5" r="1.45"/><circle cx="401.3" cy="305.6" r="1.45"/><circle cx="404.6" cy="309.6" r="1.45"/><circle cx="407.9" cy="313.5" r="1.45"/><circle cx="411.2" cy="317.3" r="1.45"/><circle cx="414.5" cy="321.0" r="1.45"/><circle cx="417.8" cy="324.5" r="1.45"/><circle cx="421.1" cy="327.6" r="1.45"/><circle cx="424.4" cy="330.5" r="1.45"/><circle cx="427.7" cy="333.0" r="1.45"/><circle cx="431.0" cy="335.3" r="1.45"/><circle cx="434.3" cy="337.3" r="1.45"/><circle cx="437.6" cy="339.0" r="1.45"/><circle cx="440.9" cy="340.6" r="1.45"/><circle cx="444.2" cy="342.3" r="1.45"/><circle cx="447.5" cy="343.9" r="1.45"/><circle cx="450.8" cy="345.6" r="1.45"/><circle cx="454.1" cy="347.2" r="1.45"/><circle cx="457.4" cy="348.9" r="1.45"/><circle cx="460.7" cy="350.3" r="1.45"/><circle cx="464.0" cy="351.7" r="1.45"/><circle cx="467.3" cy="353.0" r="1.45"/><circle cx="470.6" cy="354.3" r="1.45"/><circle cx="473.9" cy="355.3" r="1.45"/><circle cx="477.2" cy="356.2" r="1.45"/><circle cx="480.5" cy="357.0" r="1.45"/><circle cx="483.8" cy="357.8" r="1.45"/><circle cx="487.1" cy="358.5" r="1.45"/><circle cx="490.4" cy="359.0" r="1.45"/><circle cx="493.7" cy="359.5" r="1.45"/><circle cx="497.0" cy="360.0" r="1.45"/><circle cx="500.3" cy="360.3" r="1.45"/><circle cx="503.6" cy="360.7" r="1.45"/><circle cx="506.9" cy="361.0" r="1.45"/><circle cx="510.2" cy="361.2" r="1.45"/><circle cx="513.5" cy="361.3" r="1.45"/><circle cx="516.8" cy="361.5" r="1.45"/><circle cx="520.1" cy="361.7" r="1.45"/><circle cx="523.4" cy="361.8" r="1.45"/><circle cx="526.7" cy="361.9" r="1.45"/><circle cx="530.0" cy="362.1" r="1.45"/><circle cx="533.3" cy="362.2" r="1.45"/><circle cx="536.6" cy="362.3" r="1.45"/><circle cx="539.9" cy="362.4" r="1.45"/><circle cx="543.2" cy="362.5" r="1.45"/><circle cx="546.5" cy="362.6" r="1.45"/><circle cx="549.8" cy="362.7" r="1.45"/><circle cx="553.1" cy="362.9" r="1.45"/><circle cx="556.4" cy="363.0" r="1.45"/><circle cx="559.7" cy="363.1" r="1.45"/><circle cx="563.0" cy="363.2" r="1.45"/><circle cx="566.3" cy="363.2" r="1.45"/><circle cx="569.6" cy="363.3" r="1.45"/><circle cx="572.9" cy="363.3" r="1.45"/><circle cx="576.2" cy="363.4" r="1.45"/><circle cx="579.5" cy="363.4" r="1.45"/><circle cx="582.8" cy="363.5" r="1.45"/><circle cx="586.1" cy="363.6" r="1.45"/><circle cx="589.4" cy="363.6" r="1.45"/><circle cx="592.7" cy="363.7" r="1.45"/><circle cx="596.0" cy="363.7" r="1.45"/><circle cx="599.3" cy="363.8" r="1.45"/><circle cx="602.6" cy="363.8" r="1.45"/><circle cx="605.9" cy="363.8" r="1.45"/><circle cx="609.2" cy="363.8" r="1.45"/><circle cx="612.5" cy="363.8" r="1.45"/><circle cx="615.8" cy="363.9" r="1.45"/><circle cx="619.1" cy="363.9" r="1.45"/><circle cx="622.4" cy="363.9" r="1.45"/><circle cx="625.7" cy="363.9" r="1.45"/><circle cx="629.0" cy="363.9" r="1.45"/><circle cx="632.3" cy="363.9" r="1.45"/><circle cx="635.6" cy="363.9" r="1.45"/><circle cx="638.9" cy="364.0" r="1.45"/><circle cx="642.2" cy="364.0" r="1.45"/><circle cx="645.5" cy="364.0" r="1.45"/><circle cx="648.8" cy="364.0" r="1.45"/><circle cx="652.1" cy="364.0" r="1.45"/><circle cx="655.4" cy="364.0" r="1.45"/><circle cx="658.7" cy="364.0" r="1.45"/><circle cx="662.0" cy="364.0" r="1.45"/><circle cx="665.3" cy="364.1" r="1.45"/><circle cx="668.6" cy="364.1" r="1.45"/><circle cx="671.9" cy="364.1" r="1.45"/><circle cx="675.2" cy="364.1" r="1.45"/><circle cx="678.5" cy="364.1" r="1.45"/><circle cx="681.8" cy="364.1" r="1.45"/><circle cx="685.1" cy="364.1" r="1.45"/><circle cx="688.4" cy="364.1" r="1.45"/><circle cx="691.7" cy="364.2" r="1.45"/><circle cx="695.0" cy="364.2" r="1.45"/><circle cx="698.3" cy="364.2" r="1.45"/><circle cx="701.6" cy="364.2" r="1.45"/></g>
<g fill="#00964a"><circle cx="100.9" cy="361.9" r="1.45"/><circle cx="104.7" cy="361.8" r="1.45"/><circle cx="108.5" cy="361.8" r="1.45"/><circle cx="112.3" cy="361.7" r="1.45"/><circle cx="116.1" cy="361.7" r="1.45"/><circle cx="119.9" cy="361.6" r="1.45"/><circle cx="123.7" cy="361.6" r="1.45"/><circle cx="127.5" cy="361.5" r="1.45"/><circle cx="131.3" cy="361.5" r="1.45"/><circle cx="135.1" cy="361.4" r="1.45"/><circle cx="138.9" cy="361.4" r="1.45"/><circle cx="142.7" cy="361.3" r="1.45"/><circle cx="146.5" cy="361.3" r="1.45"/><circle cx="150.3" cy="361.2" r="1.45"/><circle cx="154.1" cy="361.2" r="1.45"/><circle cx="157.9" cy="361.1" r="1.45"/><circle cx="161.7" cy="361.1" r="1.45"/><circle cx="165.5" cy="361.0" r="1.45"/><circle cx="169.3" cy="360.9" r="1.45"/><circle cx="173.1" cy="360.8" r="1.45"/><circle cx="176.9" cy="360.7" r="1.45"/><circle cx="180.7" cy="360.6" r="1.45"/><circle cx="184.5" cy="360.5" r="1.45"/><circle cx="188.3" cy="360.4" r="1.45"/><circle cx="192.1" cy="360.3" r="1.45"/><circle cx="195.9" cy="360.2" r="1.45"/><circle cx="199.7" cy="360.1" r="1.45"/><circle cx="203.5" cy="360.0" r="1.45"/><circle cx="207.3" cy="359.9" r="1.45"/><circle cx="211.1" cy="359.8" r="1.45"/><circle cx="214.9" cy="359.7" r="1.45"/><circle cx="218.7" cy="359.5" r="1.45"/><circle cx="222.5" cy="359.2" r="1.45"/><circle cx="226.3" cy="359.0" r="1.45"/><circle cx="230.1" cy="358.7" r="1.45"/><circle cx="233.9" cy="358.4" r="1.45"/><circle cx="237.7" cy="358.1" r="1.45"/><circle cx="241.5" cy="357.8" r="1.45"/><circle cx="245.3" cy="357.4" r="1.45"/><circle cx="249.1" cy="357.1" r="1.45"/><circle cx="252.9" cy="356.7" r="1.45"/><circle cx="256.7" cy="356.4" r="1.45"/><circle cx="260.5" cy="356.1" r="1.45"/><circle cx="264.3" cy="355.8" r="1.45"/><circle cx="268.1" cy="355.1" r="1.45"/><circle cx="271.9" cy="354.1" r="1.45"/><circle cx="275.7" cy="353.1" r="1.45"/><circle cx="279.5" cy="351.5" r="1.45"/><circle cx="283.3" cy="350.1" r="1.45"/><circle cx="287.1" cy="349.0" r="1.45"/><circle cx="290.9" cy="347.8" r="1.45"/><circle cx="294.7" cy="346.2" r="1.45"/><circle cx="298.5" cy="344.4" r="1.45"/><circle cx="302.3" cy="342.3" r="1.45"/><circle cx="306.1" cy="340.3" r="1.45"/><circle cx="309.9" cy="338.1" r="1.45"/><circle cx="313.7" cy="335.9" r="1.45"/><circle cx="317.5" cy="333.7" r="1.45"/><circle cx="321.3" cy="331.6" r="1.45"/><circle cx="325.1" cy="329.5" r="1.45"/><circle cx="328.9" cy="326.8" r="1.45"/><circle cx="332.7" cy="322.5" r="1.45"/><circle cx="336.5" cy="318.0" r="1.45"/><circle cx="340.3" cy="313.3" r="1.45"/><circle cx="344.1" cy="308.5" r="1.45"/><circle cx="347.9" cy="304.6" r="1.45"/><circle cx="351.7" cy="301.1" r="1.45"/><circle cx="355.5" cy="297.4" r="1.45"/><circle cx="359.3" cy="294.7" r="1.45"/><circle cx="363.1" cy="293.7" r="1.45"/><circle cx="366.9" cy="293.9" r="1.45"/><circle cx="370.7" cy="295.3" r="1.45"/><circle cx="374.5" cy="298.6" r="1.45"/><circle cx="378.3" cy="302.7" r="1.45"/><circle cx="382.1" cy="307.7" r="1.45"/><circle cx="385.9" cy="312.4" r="1.45"/><circle cx="389.7" cy="316.1" r="1.45"/><circle cx="393.5" cy="320.8" r="1.45"/><circle cx="397.3" cy="325.7" r="1.45"/><circle cx="401.1" cy="330.8" r="1.45"/><circle cx="404.9" cy="335.5" r="1.45"/><circle cx="408.7" cy="339.3" r="1.45"/><circle cx="412.5" cy="342.6" r="1.45"/><circle cx="416.3" cy="345.6" r="1.45"/><circle cx="420.1" cy="348.3" r="1.45"/><circle cx="423.9" cy="350.6" r="1.45"/><circle cx="427.7" cy="352.8" r="1.45"/><circle cx="431.5" cy="354.6" r="1.45"/><circle cx="435.3" cy="356.1" r="1.45"/><circle cx="439.1" cy="357.3" r="1.45"/><circle cx="442.9" cy="358.3" r="1.45"/><circle cx="446.7" cy="359.0" r="1.45"/><circle cx="450.5" cy="359.7" r="1.45"/><circle cx="454.3" cy="360.2" r="1.45"/><circle cx="458.1" cy="360.6" r="1.45"/><circle cx="461.9" cy="361.0" r="1.45"/><circle cx="465.7" cy="361.4" r="1.45"/><circle cx="469.5" cy="361.7" r="1.45"/><circle cx="473.3" cy="362.0" r="1.45"/><circle cx="477.1" cy="362.3" r="1.45"/><circle cx="480.9" cy="362.5" r="1.45"/><circle cx="484.7" cy="362.7" r="1.45"/><circle cx="488.5" cy="362.9" r="1.45"/><circle cx="492.3" cy="363.1" r="1.45"/><circle cx="496.1" cy="363.3" r="1.45"/><circle cx="499.9" cy="363.3" r="1.45"/><circle cx="503.7" cy="363.4" r="1.45"/><circle cx="507.5" cy="363.5" r="1.45"/><circle cx="511.3" cy="363.5" r="1.45"/><circle cx="515.1" cy="363.6" r="1.45"/><circle cx="518.9" cy="363.7" r="1.45"/><circle cx="522.7" cy="363.7" r="1.45"/><circle cx="526.5" cy="363.8" r="1.45"/><circle cx="530.3" cy="363.8" r="1.45"/><circle cx="534.1" cy="363.8" r="1.45"/><circle cx="537.9" cy="363.8" r="1.45"/><circle cx="541.7" cy="363.8" r="1.45"/><circle cx="545.5" cy="363.8" r="1.45"/><circle cx="549.3" cy="363.8" r="1.45"/><circle cx="553.1" cy="363.8" r="1.45"/><circle cx="556.9" cy="363.8" r="1.45"/><circle cx="560.7" cy="363.8" r="1.45"/><circle cx="564.5" cy="363.8" r="1.45"/><circle cx="568.3" cy="363.8" r="1.45"/><circle cx="572.1" cy="363.9" r="1.45"/><circle cx="575.9" cy="363.9" r="1.45"/><circle cx="579.7" cy="363.9" r="1.45"/><circle cx="583.5" cy="363.9" r="1.45"/><circle cx="587.3" cy="363.9" r="1.45"/><circle cx="591.1" cy="363.9" r="1.45"/><circle cx="594.9" cy="363.9" r="1.45"/><circle cx="598.7" cy="363.9" r="1.45"/><circle cx="602.5" cy="363.9" r="1.45"/><circle cx="606.3" cy="363.9" r="1.45"/><circle cx="610.1" cy="363.9" r="1.45"/><circle cx="613.9" cy="363.9" r="1.45"/><circle cx="617.7" cy="363.9" r="1.45"/><circle cx="621.5" cy="363.9" r="1.45"/><circle cx="625.3" cy="363.9" r="1.45"/><circle cx="629.1" cy="363.9" r="1.45"/><circle cx="632.9" cy="363.9" r="1.45"/><circle cx="636.7" cy="363.9" r="1.45"/><circle cx="640.5" cy="363.9" r="1.45"/><circle cx="644.3" cy="363.9" r="1.45"/><circle cx="648.1" cy="363.9" r="1.45"/><circle cx="651.9" cy="363.9" r="1.45"/><circle cx="655.7" cy="363.9" r="1.45"/><circle cx="659.5" cy="364.0" r="1.45"/><circle cx="663.3" cy="364.0" r="1.45"/><circle cx="667.1" cy="364.0" r="1.45"/><circle cx="670.9" cy="364.0" r="1.45"/><circle cx="674.7" cy="364.0" r="1.45"/><circle cx="678.5" cy="364.0" r="1.45"/><circle cx="682.3" cy="364.0" r="1.45"/><circle cx="686.1" cy="364.0" r="1.45"/><circle cx="689.9" cy="364.0" r="1.45"/><circle cx="693.7" cy="364.0" r="1.45"/><circle cx="697.5" cy="364.0" r="1.45"/></g>
<rect x="628.6" y="266.4" width="94.3" height="68.4" fill="#fff" stroke="#5c5c5c" stroke-width="1"/>
<line x1="632.3" x2="659.3" y1="283.9" y2="283.9" stroke="#6e6e6e" stroke-width="1.2"/><circle cx="645.8" cy="283.9" r="3.6" fill="#000000"/><text x="672.6" y="288.1" font-size="14.5">15%wt</text>
<line x1="632.3" x2="659.3" y1="300.9" y2="300.9" stroke="#f66c64" stroke-width="1.2"/><circle cx="645.8" cy="300.9" r="3.6" fill="#f0140f"/><text x="672.6" y="305.1" font-size="14.5">21%wt</text>
<line x1="632.3" x2="659.3" y1="317.9" y2="317.9" stroke="#6fbc7c" stroke-width="1.2"/><circle cx="645.8" cy="317.9" r="3.6" fill="#0a8f22"/><text x="672.6" y="322.1" font-size="14.5">27%wt</text>
</svg>
</body></html>
